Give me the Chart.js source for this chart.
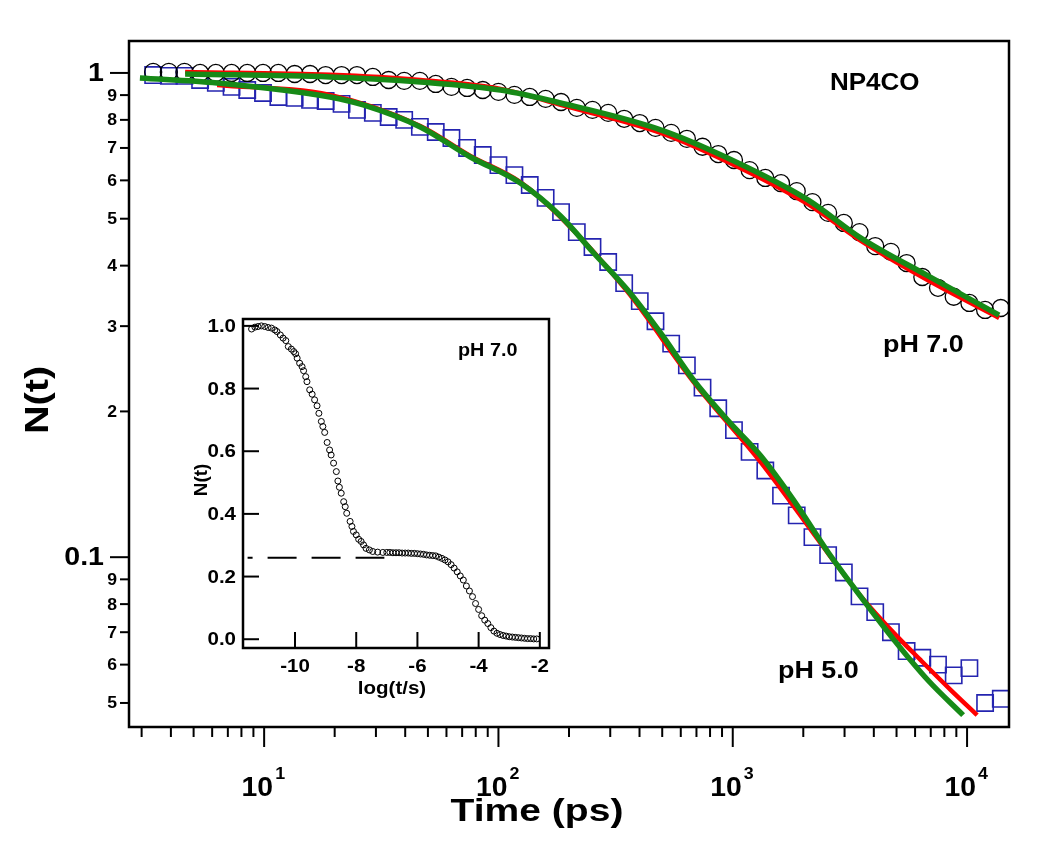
<!DOCTYPE html>
<html>
<head>
<meta charset="utf-8">
<script src="https://cdn.jsdelivr.net/npm/chart.js@4.4.0/dist/chart.umd.min.js"></script>
<style>
  html, body { margin: 0; padding: 0; background: #fff; }
  #wrap { position: relative; width: 1050px; height: 843px; }
  #mainChart { position: absolute; left: 0; top: 0; }
  #insetChart { position: absolute; left: 190px; top: 300px; }
</style>
</head>
<body>
<div id="wrap">
  <canvas id="mainChart" width="1050" height="843"></canvas>
  <canvas id="insetChart" width="370" height="410"></canvas>
</div>
<script>
// ---- main panel data (time in ps, N(t)) ----
var timePs = [3.36, 3.92, 4.57, 5.33, 6.22, 7.26, 8.47, 9.89, 11.5, 13.5, 15.7, 18.3, 21.4, 24.9, 29.1,
  34.0, 39.6, 46.2, 54.0, 63.0, 73.5, 85.7, 100, 117, 136, 159, 185, 216, 252, 294, 344, 401, 468, 546,
  637, 743, 867, 1012, 1180, 1377, 1607, 1875, 2188, 2553, 2979, 3475, 4055, 4732, 5521, 6442, 7516,
  8770, 10233, 11940, 13930];
var nPH7 = [1.005, 1.005, 1.005, 1.0, 1.0, 1.0, 1.0, 1.0, 1.0, 0.995, 0.995, 0.990, 0.990, 0.990, 0.981,
  0.967, 0.963, 0.963, 0.949, 0.936, 0.931, 0.922, 0.914, 0.901, 0.892, 0.884, 0.871, 0.847, 0.839, 0.827,
  0.804, 0.788, 0.770, 0.752, 0.731, 0.704, 0.680, 0.661, 0.630, 0.607, 0.592, 0.570, 0.541, 0.514, 0.490,
  0.469, 0.439, 0.427, 0.405, 0.379, 0.360, 0.345, 0.335, 0.324, 0.327];
var nPH5 = [0.990, 0.986, 0.986, 0.967, 0.954, 0.936, 0.922, 0.909, 0.892, 0.888, 0.880, 0.875, 0.863, 0.839,
  0.827, 0.811, 0.800, 0.774, 0.755, 0.734, 0.700, 0.677, 0.645, 0.615, 0.587, 0.552, 0.516, 0.469, 0.437,
  0.407, 0.368, 0.338, 0.307, 0.276, 0.249, 0.224, 0.203, 0.183, 0.165, 0.151, 0.134, 0.122, 0.110, 0.101,
  0.093, 0.083, 0.077, 0.070, 0.064, 0.062, 0.060, 0.057, 0.059, 0.050, 0.051];

// fit curves
var fitRed7T = [4.60, 19.1, 46.4, 102, 184, 492, 952, 2092, 3524, 6813, 13700];
var fitRed7N = [1.005, 0.991, 0.967, 0.927, 0.859, 0.752, 0.655, 0.536, 0.450, 0.373, 0.312];
var fitGreen7T = [4.60, 19.1, 46.4, 102, 184, 492, 952, 2092, 3524, 6813, 13700];
var fitGreen7N = [0.995, 0.981, 0.958, 0.922, 0.867, 0.763, 0.667, 0.547, 0.456, 0.381, 0.316];
var fitRed5T = [6.30, 19.1, 46.4, 75.9, 124, 184, 356, 681, 1318, 2547, 3524, 4875, 6358, 8547, 11040];
var fitRed5N = [0.9445, 0.9006, 0.777, 0.674, 0.595, 0.504, 0.353, 0.230, 0.157, 0.102, 0.083, 0.0697, 0.0612, 0.0531, 0.0472];
var fitGreen5T = [2.95, 6.30, 19.1, 26.5, 46.4, 75.9, 124, 184, 255, 356, 492, 681, 952, 1318, 1823, 2547, 3524, 4875, 6813, 9616];
var fitGreen5N = [0.9765, 0.9536, 0.892, 0.8588, 0.7735, 0.6705, 0.5924, 0.5065, 0.4248, 0.3562, 0.2904, 0.2319,
  0.1917, 0.1618, 0.1309, 0.1025, 0.0828, 0.0675, 0.0557, 0.0472];

// axis ticks
var xMajorTicks = [10, 100, 1000, 10000];
var xMajorExp = ['1', '2', '3', '4'];
var xMinorTicks = [3, 4, 5, 6, 7, 8, 9, 20, 30, 40, 50, 60, 70, 80, 90, 200, 300, 400, 500, 600, 700, 800, 900,
  2000, 3000, 4000, 5000, 6000, 7000, 8000, 9000];
var yMajorTicks = [1, 0.1];
var yMajorLabels = ['1', '0.1'];
var yMinorTicks = [0.9, 0.8, 0.7, 0.6, 0.5, 0.4, 0.3, 0.2, 0.09, 0.08, 0.07, 0.06, 0.05];
var yMinorLabels = ['9', '8', '7', '6', '5', '4', '3', '2', '9', '8', '7', '6', '5'];

// ---- inset data (log(t/s), N(t)) ----
var insetLogT = [-11.42, -11.31, -11.21, -11.10, -10.99, -10.88, -10.77, -10.66, -10.59, -10.48, -10.39, -10.30,
  -10.22, -10.12, -10.04, -9.98, -9.93, -9.85, -9.77, -9.72, -9.65, -9.61, -9.52, -9.44, -9.36, -9.28, -9.22,
  -9.14, -9.09, -9.03, -8.95, -8.87, -8.82, -8.74, -8.65, -8.60, -8.55, -8.49, -8.41, -8.36, -8.31, -8.20,
  -8.14, -8.09, -8.00, -7.92, -7.84, -7.76, -7.68, -7.57, -7.46, -7.30, -7.13,
  -7.0, -6.9, -6.8, -6.7, -6.6, -6.5, -6.4, -6.3, -6.2, -6.1, -6.0, -5.9, -5.8, -5.7, -5.6, -5.5, -5.4, -5.3,
  -5.2, -5.1, -5.0, -4.9, -4.8, -4.7, -4.6, -4.5, -4.4, -4.3, -4.2, -4.1, -4.0, -3.9, -3.8, -3.7, -3.6, -3.5,
  -3.4, -3.3, -3.2, -3.1, -3.0, -2.9, -2.8, -2.7, -2.6, -2.5, -2.4, -2.3, -2.2, -2.1];
var insetN = [0.990, 0.996, 0.998, 1.000, 0.998, 0.995, 0.993, 0.987, 0.982, 0.971, 0.961, 0.953, 0.934, 0.926,
  0.918, 0.911, 0.897, 0.881, 0.870, 0.857, 0.838, 0.822, 0.796, 0.782, 0.764, 0.745, 0.721, 0.695, 0.679,
  0.660, 0.628, 0.604, 0.588, 0.562, 0.535, 0.505, 0.485, 0.466, 0.439, 0.423, 0.402, 0.376, 0.360, 0.344,
  0.333, 0.319, 0.312, 0.301, 0.290, 0.285, 0.280, 0.278, 0.277,
  0.277, 0.277, 0.276, 0.276, 0.276, 0.275, 0.275, 0.275, 0.274, 0.274, 0.273, 0.272, 0.271, 0.269, 0.268,
  0.267, 0.266, 0.262, 0.258, 0.253, 0.247, 0.238, 0.227, 0.215, 0.202, 0.189, 0.170, 0.154, 0.136, 0.114,
  0.095, 0.075, 0.061, 0.050, 0.037, 0.026, 0.019, 0.015, 0.012, 0.010, 0.008, 0.007, 0.006, 0.005, 0.004,
  0.003, 0.002, 0.002, 0.001, 0.001];
var dashX = [-11.55, -7.08];
var dashY = [0.26, 0.26];
var insetXTicks = [-10, -8, -6, -4, -2];
var insetXLabels = ['-10', '-8', '-6', '-4', '-2'];
var insetYTicks = [0, 0.2, 0.4, 0.6, 0.8, 1.0];
var insetYLabels = ['0.0', '0.2', '0.4', '0.6', '0.8', '1.0'];

var FONT = '"Liberation Sans", Arial, sans-serif';

function pts(xs, ys) {
  return xs.map(function(v, i) { return {x: v, y: ys[i]}; });
}

function text(ctx, s, x, y, size, align, base, sx) {
  ctx.save();
  ctx.translate(x, y);
  ctx.scale(sx || 1.12, 1);
  ctx.font = 'bold ' + size + 'px ' + FONT;
  ctx.textAlign = align;
  ctx.textBaseline = base || 'alphabetic';
  ctx.fillStyle = '#000';
  ctx.fillText(s, 0, 0);
  ctx.restore();
}

// rotated text, stretched along its own length by sl
function vtext(ctx, s, x, y, size, sl) {
  ctx.save();
  ctx.translate(x, y);
  ctx.rotate(-Math.PI / 2);
  ctx.scale(sl || 1.0, 1);
  ctx.font = 'bold ' + size + 'px ' + FONT;
  ctx.textAlign = 'center';
  ctx.textBaseline = 'middle';
  ctx.fillStyle = '#000';
  ctx.fillText(s, 0, 0);
  ctx.restore();
}

function line(ctx, x1, y1, x2, y2) {
  ctx.beginPath();
  ctx.moveTo(x1, y1);
  ctx.lineTo(x2, y2);
  ctx.stroke();
}

var whiteBg = {
  id: 'whiteBg',
  beforeDraw: function(chart) {
    var ctx = chart.ctx;
    ctx.save();
    ctx.fillStyle = '#fff';
    if (chart.canvas.id === 'insetChart') {
      var a = chart.chartArea;
      ctx.fillRect(a.left, a.top, a.right - a.left, a.bottom - a.top);
    } else {
      ctx.fillRect(0, 0, chart.width, chart.height);
    }
    ctx.restore();
  }
};

var mainDeco = {
  id: 'mainDeco',
  afterDraw: function(chart) {
    var ctx = chart.ctx, a = chart.chartArea;
    var xs = chart.scales.x, ys = chart.scales.y;
    ctx.save();
    ctx.strokeStyle = '#000';
    ctx.lineWidth = 2;
    // y ticks (outside, left)
    yMajorTicks.forEach(function(v, i) {
      var p = ys.getPixelForValue(v);
      line(ctx, a.left - 19, p, a.left, p);
      text(ctx, yMajorLabels[i], a.left - 25, p + 1, 26, 'right', 'middle', 1.1);
    });
    yMinorTicks.forEach(function(v, i) {
      var p = ys.getPixelForValue(v);
      line(ctx, a.left - 9, p, a.left, p);
      text(ctx, yMinorLabels[i], a.left - 12, p + 1, 16, 'right', 'middle', 1.1);
    });
    // x ticks (outside, bottom)
    xMajorTicks.forEach(function(v, i) {
      var p = xs.getPixelForValue(v);
      line(ctx, p, a.bottom, p, a.bottom + 20);
      text(ctx, '10', p + 9, 796, 27, 'right', 'alphabetic', 1.05);
      text(ctx, xMajorExp[i], p + 11, 779, 17, 'left', 'alphabetic', 1.05);
    });
    xMinorTicks.forEach(function(v) {
      var p = xs.getPixelForValue(v);
      line(ctx, p, a.bottom, p, a.bottom + 10);
    });
    // frame
    ctx.lineWidth = 2.5;
    ctx.strokeRect(a.left, a.top, a.right - a.left, a.bottom - a.top);
    // titles and annotations
    text(ctx, 'Time (ps)', 537, 821, 32, 'center', 'alphabetic', 1.22);
    vtext(ctx, 'N(t)', 39, 400, 33, 1.2);
    text(ctx, 'NP4CO', 830, 90, 23, 'left', 'alphabetic', 1.13);
    text(ctx, 'pH 7.0', 883, 352, 24, 'left', 'alphabetic', 1.12);
    text(ctx, 'pH 5.0', 778, 678, 24, 'left', 'alphabetic', 1.12);
    ctx.restore();
  }
};

var insetDeco = {
  id: 'insetDeco',
  afterDraw: function(chart) {
    var ctx = chart.ctx, a = chart.chartArea;
    var xs = chart.scales.x, ys = chart.scales.y;
    ctx.save();
    ctx.strokeStyle = '#000';
    ctx.lineWidth = 2;
    insetYTicks.forEach(function(v, i) {
      var p = ys.getPixelForValue(v);
      line(ctx, a.left, p, a.left + 16, p);
      text(ctx, insetYLabels[i], a.left - 7, p + 1, 19, 'right', 'middle', 1.08);
    });
    insetXTicks.forEach(function(v, i) {
      var p = xs.getPixelForValue(v);
      line(ctx, p, a.bottom, p, a.bottom - 16);
      text(ctx, insetXLabels[i], p, a.bottom + 24, 19, 'center', 'alphabetic', 1.08);
    });
    ctx.lineWidth = 2.5;
    ctx.strokeRect(a.left, a.top, a.right - a.left, a.bottom - a.top);
    text(ctx, 'log(t/s)', 202, 394, 19, 'center', 'alphabetic', 1.08);
    vtext(ctx, 'N(t)', 12, 180, 18, 1.05);
    text(ctx, 'pH 7.0', 268, 56, 18, 'left', 'alphabetic', 1.1);
    ctx.restore();
  }
};

function fitLine(data, color, width, order) {
  return {
    data: data, showLine: true, borderColor: color, borderWidth: width,
    pointRadius: 0, cubicInterpolationMode: 'monotone', order: order, fill: false
  };
}

window.onload = function() {
  var ctx = document.getElementById('mainChart').getContext('2d');
  new Chart(ctx, {
    type: 'scatter',
    data: {
      datasets: [
        fitLine(pts(fitGreen7T, fitGreen7N), '#178a17', 5.5, 0),
        fitLine(pts(fitGreen5T, fitGreen5N), '#178a17', 5.5, 0),
        fitLine(pts(fitRed7T, fitRed7N), '#ff0000', 4.5, 1),
        fitLine(pts(fitRed5T, fitRed5N), '#ff0000', 4.5, 1),
        {
          data: pts(timePs, nPH7), pointStyle: 'circle', pointRadius: 8.5,
          pointBorderColor: '#000', pointBorderWidth: 1.3, pointBackgroundColor: 'rgba(0,0,0,0)', order: 2
        },
        {
          data: pts(timePs, nPH5), pointStyle: 'rect', pointRadius: 11.5,
          pointBorderColor: '#2424b0', pointBorderWidth: 1.6, pointBackgroundColor: 'rgba(0,0,0,0)', order: 2
        }
      ]
    },
    options: {
      responsive: false,
      animation: false,
      devicePixelRatio: 1,
      layout: { padding: { left: 0, top: 41, right: 41, bottom: 0 } },
      plugins: { legend: { display: false }, tooltip: { enabled: false } },
      scales: {
        x: {
          type: 'logarithmic', min: 2.65, max: 15100,
          ticks: { display: false }, grid: { display: false }, border: { display: false },
          afterFit: function(s) { s.height = 116; }
        },
        y: {
          type: 'logarithmic', min: 0.0446, max: 1.164,
          ticks: { display: false }, grid: { display: false }, border: { display: false },
          afterFit: function(s) { s.width = 129; }
        }
      }
    },
    plugins: [whiteBg, mainDeco]
  });

  var ictx = document.getElementById('insetChart').getContext('2d');
  new Chart(ictx, {
    type: 'scatter',
    data: {
      datasets: [
        {
          data: pts(dashX, dashY), showLine: true, borderColor: '#000', borderWidth: 2,
          borderDash: [29, 15], borderDashOffset: 24, pointRadius: 0, order: 1
        },
        {
          data: pts(insetLogT, insetN), pointStyle: 'circle', pointRadius: 3,
          pointBorderColor: '#000', pointBorderWidth: 1, pointBackgroundColor: 'rgba(0,0,0,0)', order: 0
        }
      ]
    },
    options: {
      responsive: false,
      animation: false,
      devicePixelRatio: 1,
      layout: { padding: { left: 0, top: 19, right: 11, bottom: 0 } },
      plugins: { legend: { display: false }, tooltip: { enabled: false } },
      scales: {
        x: {
          type: 'linear', min: -11.7, max: -1.7,
          ticks: { display: false }, grid: { display: false }, border: { display: false },
          afterFit: function(s) { s.height = 62; }
        },
        y: {
          type: 'linear', min: -0.028, max: 1.022,
          ticks: { display: false }, grid: { display: false }, border: { display: false },
          afterFit: function(s) { s.width = 53; }
        }
      }
    },
    plugins: [whiteBg, insetDeco]
  });
};
</script>
</body>
</html>
